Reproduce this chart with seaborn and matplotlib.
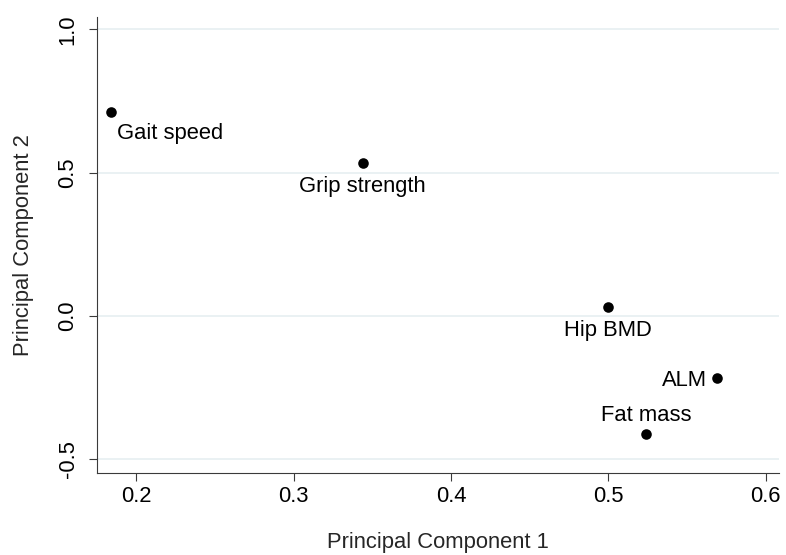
import matplotlib
matplotlib.use("Agg")
import matplotlib.pyplot as plt
import seaborn as sns
import pandas as pd

# Loadings of each measure on the first two principal components
variables = ["Gait speed", "Grip strength", "Hip BMD", "ALM", "Fat mass"]
pc1 = [0.184, 0.344, 0.500, 0.569, 0.524]
pc2 = [0.710, 0.534, 0.031, -0.215, -0.413]

x_ticks = [0.2, 0.3, 0.4, 0.5, 0.6]
x_tick_labels = ["0.2", "0.3", "0.4", "0.5", "0.6"]
y_ticks = [-0.5, 0.0, 0.5, 1.0]
y_tick_labels = ["-0.5", "0.0", "0.5", "1.0"]

df = pd.DataFrame({"variable": variables, "pc1": pc1, "pc2": pc2})

sns.set_style("white")
plt.rcParams["font.family"] = ["Liberation Sans", "DejaVu Sans"]

FS = 15.8
AXIS_COLOR = "#3a3a3a"
GRID_COLOR = "#e4edf0"

fig = plt.figure(figsize=(7.86, 5.55), dpi=100)
ax = fig.add_axes([0.1238, 0.1472, 0.9911 - 0.1238, 0.9694 - 0.1472])

sns.scatterplot(data=df, x="pc1", y="pc2", ax=ax, color="black",
                s=58, edgecolor="black", linewidth=0, zorder=3, legend=False)

# label placement per point: (ha, dx, dy) in points, baseline anchored
placement = {
    "Gait speed": ("left", 4.3, -19.2),
    "Grip strength": ("center", 0.0, -20.9),
    "Hip BMD": ("center", 0.0, -21.1),
    "ALM": ("right", -7.2, -6.3),
    "Fat mass": ("center", 0.0, 9.6),
}
for name, xv, yv in zip(variables, pc1, pc2):
    ha, dx, dy = placement[name]
    ax.annotate(name, (xv, yv), xytext=(dx, dy), textcoords="offset points",
                ha=ha, va="baseline", fontsize=FS, color="black")

ax.set_xlim(0.1753, 0.6085)
ax.set_ylim(-0.549, 1.043)

ax.set_xticks(x_ticks)
ax.set_xticklabels(x_tick_labels)
ax.set_yticks(y_ticks)
ax.set_yticklabels(y_tick_labels, rotation=90, va="center")

ax.yaxis.grid(True, color=GRID_COLOR, linewidth=1.1, zorder=0)
ax.xaxis.grid(False)
ax.set_axisbelow(True)

for side in ["top", "right"]:
    ax.spines[side].set_visible(False)
for side in ["left", "bottom"]:
    ax.spines[side].set_color(AXIS_COLOR)
    ax.spines[side].set_linewidth(0.8)

ax.tick_params(axis="both", which="major", direction="out", length=5.5,
               width=0.8, color=AXIS_COLOR, labelsize=FS, labelcolor="black",
               bottom=True, left=True, top=False, right=False)
ax.tick_params(axis="x", pad=4)
ax.tick_params(axis="y", pad=8)

ax.set_xlabel("Principal Component 1", fontsize=FS, labelpad=17.5)
ax.set_ylabel("Principal Component 2", fontsize=FS, labelpad=17)

fig.savefig("out.png", dpi=100)
